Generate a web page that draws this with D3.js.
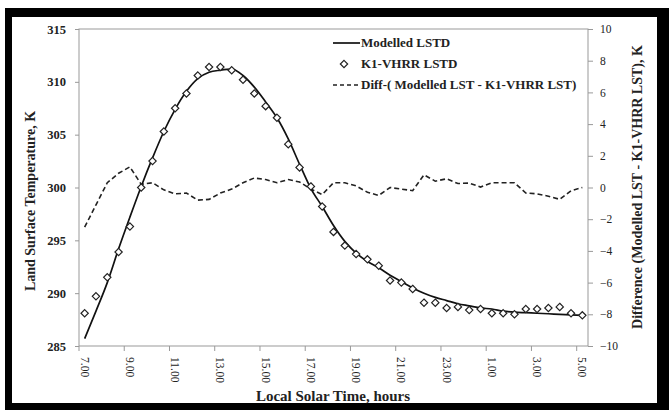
<!DOCTYPE html>
<html>
<head>
<meta charset="utf-8">
<script src="https://cdn.jsdelivr.net/npm/d3@7/dist/d3.min.js"></script>
<style>
  body { margin: 0; background: #fff; }
  svg { display: block; }
  .axis path, .axis line { stroke: #999; }
</style>
</head>
<body>
<div id="chart"></div>
<script>
// --- Data ---
const times = [
  "7.00", "7.30", "8.00", "8.30", "9.00", "9.30", "10.00", "10.30", "11.00", "11.30",
  "12.00", "12.30", "13.00", "13.30", "14.00", "14.30", "15.00", "15.30", "16.00", "16.30",
  "17.00", "17.30", "18.00", "18.30", "19.00", "19.30", "20.00", "20.30", "21.00", "21.30",
  "22.00", "22.30", "23.00", "23.30", "0.00", "0.30", "1.00", "1.30", "2.00", "2.30",
  "3.00", "3.30", "4.00", "4.30", "5.00"
];

const modelled = [
  285.7, 288.3, 291.0, 294.2, 297.2, 300.1, 302.8, 305.3, 307.4, 309.1,
  310.3, 310.9, 311.1, 311.2, 310.6, 309.5, 308.1, 306.6, 304.6, 302.2,
  299.9, 298.2, 296.4, 294.9, 293.8, 293.0, 292.4, 291.7, 291.1, 290.5,
  290.0, 289.6, 289.3, 289.0, 288.8, 288.6, 288.5, 288.3, 288.2, 288.15,
  288.1, 288.05, 288.0, 287.95, 287.9
];

const k1vhrr = [
  288.1, 289.7, 291.5, 293.9, 296.3, 300.0, 302.5, 305.3, 307.5, 308.9,
  310.6, 311.4, 311.4, 311.1, 310.2, 308.9, 307.7, 306.6, 304.1, 301.9,
  300.1, 298.2, 295.8, 294.5, 293.7, 293.2, 292.6, 291.2, 291.0, 290.4,
  289.1, 289.1, 288.6, 288.7, 288.4, 288.5, 288.1, 288.1, 288.0, 288.5,
  288.5, 288.6, 288.7, 288.1, 287.9
];

const diff = [
  -2.5, -1.1, 0.3, 0.9, 1.3, 0.2, 0.3, -0.15, -0.4, -0.35,
  -0.8, -0.75, -0.35, -0.1, 0.3, 0.6, 0.5, 0.3, 0.5, 0.35,
  -0.1, -0.45, 0.3, 0.3, 0.1, -0.3, -0.5, 0.0, -0.1, -0.2,
  0.8, 0.4, 0.55, 0.25, 0.28, 0.03, 0.3, 0.3, 0.3, -0.35,
  -0.4, -0.55, -0.75, -0.2, 0.0
];

const xTickLabels = ["7.00", "9.00", "11.00", "13.00", "15.00", "17.00", "19.00", "21.00", "23.00", "1.00", "3.00", "5.00"];
const leftTicks = [285, 290, 295, 300, 305, 310, 315];
const rightTicks = [-10, -8, -6, -4, -2, 0, 2, 4, 6, 8, 10];

// --- Layout ---
const W = 669, H = 410;
const plot = { left: 79, right: 588, top: 29, bottom: 346 };
const serif = "'Liberation Serif', 'Times New Roman', serif";

const svg = d3.select("#chart").append("svg")
  .attr("width", W)
  .attr("height", H)
  .style("font-family", serif);

// black frame
svg.append("rect").attr("x", 5).attr("y", 8).attr("width", W - 5).attr("height", H - 8).attr("fill", "#000");
svg.append("rect").attr("x", 12).attr("y", 17).attr("width", 645).attr("height", 386).attr("fill", "#fff");

// --- Scales ---
const x = d3.scaleBand().domain(times).range([plot.left, plot.right]).padding(0);
const cx = d => x(d) + x.bandwidth() / 2;
const yL = d3.scaleLinear().domain([285, 315]).range([plot.bottom, plot.top]);
const yR = d3.scaleLinear().domain([-10, 10]).range([plot.bottom, plot.top]);

// plot area box
svg.append("rect")
  .attr("x", plot.left).attr("y", plot.top)
  .attr("width", plot.right - plot.left).attr("height", plot.bottom - plot.top)
  .attr("fill", "none").attr("stroke", "#999").attr("stroke-width", 1);

// --- Axes ---
const gx = svg.append("g")
  .attr("class", "axis axis--x")
  .attr("transform", `translate(0,${plot.bottom})`)
  .call(d3.axisBottom(x).tickValues(xTickLabels).tickSize(0));
gx.selectAll(".tick text")
  .attr("y", 0).attr("x", 11).attr("dy", "0.35em")
  .attr("transform", "rotate(90)")
  .style("text-anchor", "start")
  .style("font-size", "11.5px");
// tick marks sit between categories, like the original spreadsheet chart
gx.selectAll(".tick-mark")
  .data(xTickLabels)
  .enter().append("line")
  .attr("class", "tick-mark")
  .attr("x1", d => x(d)).attr("x2", d => x(d))
  .attr("y1", 0).attr("y2", 5);

const gl = svg.append("g")
  .attr("class", "axis axis--y")
  .attr("transform", `translate(${plot.left},0)`)
  .call(d3.axisLeft(yL).tickValues(leftTicks).tickSize(4).tickPadding(9));
gl.selectAll(".tick text").style("font-size", "12.5px").style("font-weight", "bold");

const gr = svg.append("g")
  .attr("class", "axis axis--y2")
  .attr("transform", `translate(${plot.right},0)`)
  .call(d3.axisRight(yR).tickValues(rightTicks).tickSize(5).tickPadding(7));
gr.selectAll(".tick text").style("font-size", "11.5px");

svg.selectAll(".axis").attr("font-family", null);
svg.selectAll(".axis text").style("font-family", serif).attr("fill", "#222");
svg.selectAll(".axis .domain").remove();

// --- Series ---
svg.append("path")
  .datum(diff)
  .attr("fill", "none")
  .attr("stroke", "#222")
  .attr("stroke-width", 1.6)
  .attr("stroke-dasharray", "5,3")
  .attr("d", d3.line().x((d, i) => cx(times[i])).y(d => yR(d)));

svg.append("path")
  .datum(modelled)
  .attr("fill", "none")
  .attr("stroke", "#111")
  .attr("stroke-width", 1.7)
  .attr("d", d3.line().curve(d3.curveMonotoneX).x((d, i) => cx(times[i])).y(d => yL(d)));

const diamond = d3.symbol().type(d3.symbolDiamond2).size(34);
svg.selectAll(".pt")
  .data(k1vhrr)
  .enter().append("path")
  .attr("class", "pt")
  .attr("transform", (d, i) => `translate(${cx(times[i])},${yL(d)})`)
  .attr("d", diamond)
  .attr("fill", "#fff")
  .attr("stroke", "#222")
  .attr("stroke-width", 1.2);

// --- Legend ---
const legend = svg.append("g").attr("transform", "translate(333,0)");
const lg = [
  { label: "Modelled LSTD", y: 43, kind: "line" },
  { label: "K1-VHRR LSTD", y: 64, kind: "marker" },
  { label: "Diff-( Modelled LST - K1-VHRR LST)", y: 85, kind: "dash" }
];
lg.forEach(d => {
  if (d.kind === "line") {
    legend.append("line").attr("x1", 0).attr("x2", 27).attr("y1", d.y).attr("y2", d.y)
      .attr("stroke", "#111").attr("stroke-width", 1.7);
  } else if (d.kind === "dash") {
    legend.append("line").attr("x1", 0).attr("x2", 27).attr("y1", d.y).attr("y2", d.y)
      .attr("stroke", "#222").attr("stroke-width", 1.6).attr("stroke-dasharray", "4,3");
  } else {
    legend.append("path").attr("transform", `translate(11,${d.y})`).attr("d", diamond)
      .attr("fill", "#fff").attr("stroke", "#222").attr("stroke-width", 1.2);
  }
  legend.append("text")
    .attr("x", 28).attr("y", d.y + 4)
    .style("font-size", "13px").style("font-weight", "bold").attr("fill", "#222")
    .text(d.label);
});

// --- Axis titles ---
svg.append("text")
  .attr("x", 333).attr("y", 401)
  .attr("text-anchor", "middle")
  .style("font-size", "15px").style("font-weight", "bold").attr("fill", "#222")
  .text("Local Solar Time, hours");

svg.append("text")
  .attr("transform", "translate(35,201) rotate(-90)")
  .attr("text-anchor", "middle")
  .style("font-size", "14px").style("font-weight", "bold").attr("fill", "#222")
  .text("Land Surface Temperature, K");

svg.append("text")
  .attr("transform", "translate(642,187) rotate(-90)")
  .attr("text-anchor", "middle")
  .style("font-size", "14px").style("font-weight", "bold").attr("fill", "#222")
  .text("Difference (Modelled LST - K1-VHRR LST), K");
</script>
</body>
</html>
